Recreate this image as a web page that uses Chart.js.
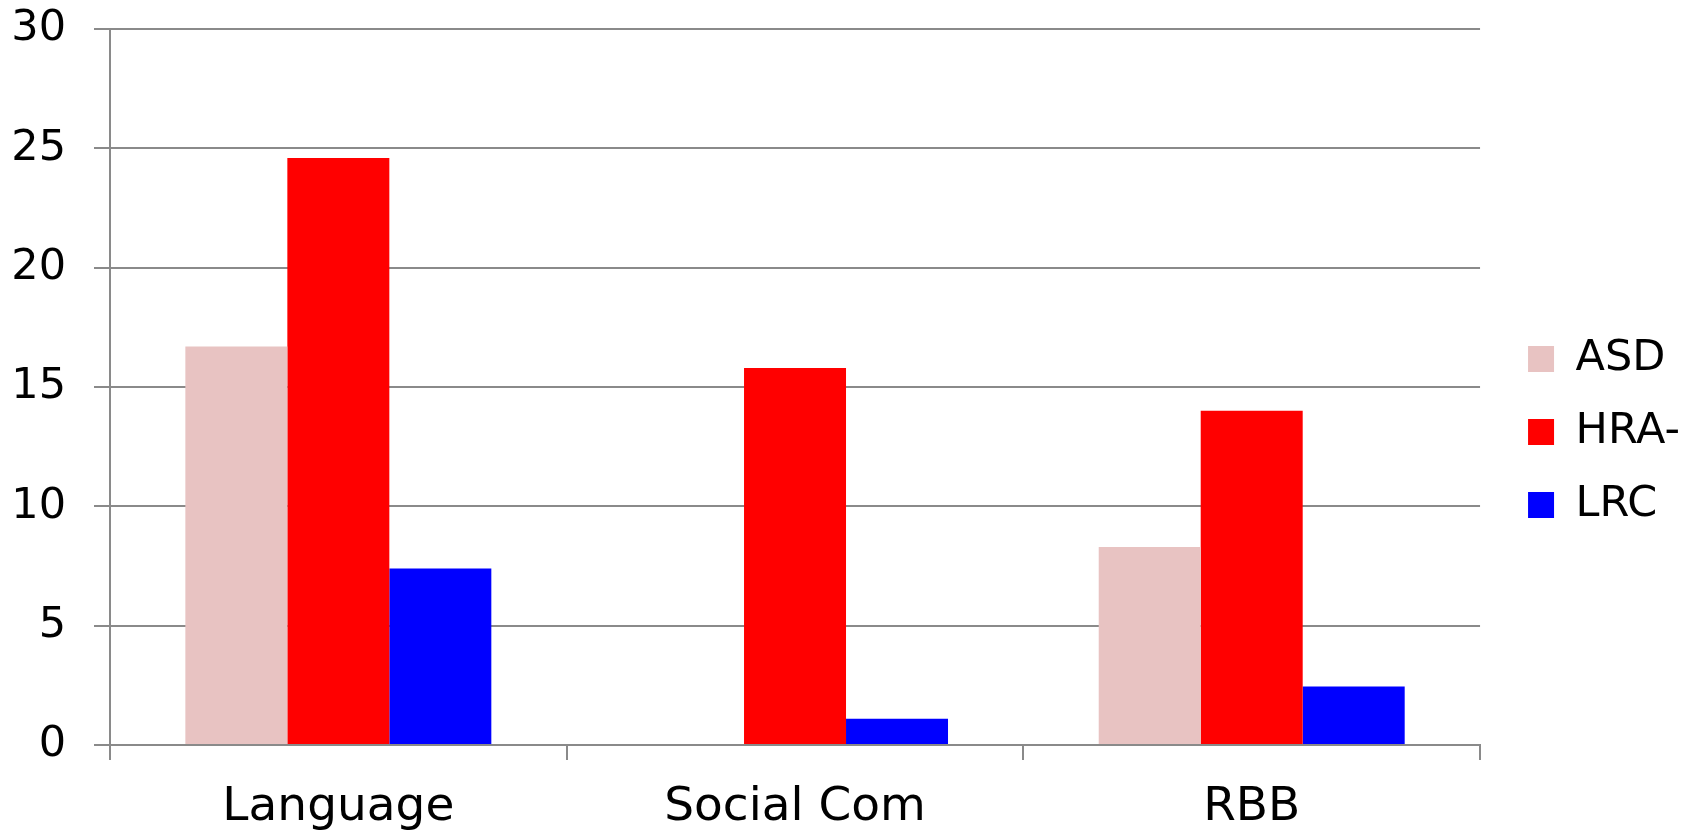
<!DOCTYPE html>
<html>
<head>
<meta charset="utf-8">
<script src="https://cdn.jsdelivr.net/npm/chart.js@4"></script>
<style>
  html, body { margin: 0; padding: 0; background: #fff; }
  #wrap { width: 1690px; height: 835px; }
</style>
</head>
<body>
<div id="wrap"><canvas id="barChart"></canvas></div>
<script>
// categories and series
const categories = ['Language', 'Social Com', 'RBB'];
const asdValues = [16.7, 0, 8.3];
const hraValues = [24.6, 15.8, 14.0];
const lrcValues = [7.4, 1.1, 2.45];
const yTicks = [0, 5, 10, 15, 20, 25, 30];

const FONT = '"DejaVu Sans", sans-serif';
const GRID = '#8a8a8a';

document.addEventListener("DOMContentLoaded", () => {
    const canvas = document.querySelector('#barChart');

    new Chart(canvas, {
        type: 'bar',
        data: {
            labels: categories,
            datasets: [
                { label: 'ASD', data: asdValues, backgroundColor: '#e8c3c2' },
                { label: 'HRA-', data: hraValues, backgroundColor: '#ff0000' },
                { label: 'LRC', data: lrcValues, backgroundColor: '#0000ff' }
            ]
        },
        options: {
            responsive: true,
            maintainAspectRatio: false,
            animation: false,
            datasets: {
                bar: { categoryPercentage: 0.67, barPercentage: 1.0 }
            },
            layout: { padding: { top: 29, right: 0, bottom: 0, left: 0 } },
            scales: {
                x: {
                    grid: {
                        offset: true,
                        drawOnChartArea: false,
                        drawTicks: true,
                        tickLength: 15,
                        color: GRID,
                        lineWidth: 2
                    },
                    border: { color: GRID, width: 2 },
                    ticks: {
                        color: '#000',
                        padding: 20,
                        font: { family: FONT, size: 47 }
                    },
                    afterFit: (scale) => { scale.height = 90; }
                },
                y: {
                    min: 0,
                    max: 30,
                    afterBuildTicks: (scale) => {
                        scale.ticks = yTicks.map(v => ({ value: v }));
                    },
                    grid: {
                        color: GRID,
                        lineWidth: 2,
                        drawTicks: true,
                        tickLength: 16
                    },
                    border: { color: GRID, width: 2 },
                    ticks: {
                        color: '#000',
                        padding: 28,
                        font: { family: FONT, size: 43 }
                    },
                    afterFit: (scale) => {
                        scale.width = 110;
                        scale.paddingTop = 0;
                        scale.paddingBottom = 0;
                    }
                },
                // empty spacer between the plot and the legend
                gap: {
                    position: 'right',
                    display: true,
                    grid: { display: false },
                    border: { display: false },
                    ticks: { display: false },
                    afterFit: (scale) => { scale.width = 18; }
                }
            },
            plugins: {
                legend: {
                    display: true,
                    position: 'right',
                    labels: {
                        boxWidth: 26,
                        boxHeight: 26,
                        padding: 30,
                        color: '#000',
                        font: { family: FONT, size: 43 }
                    }
                },
                tooltip: { enabled: false }
            }
        }
    });
});
</script>
</body>
</html>
